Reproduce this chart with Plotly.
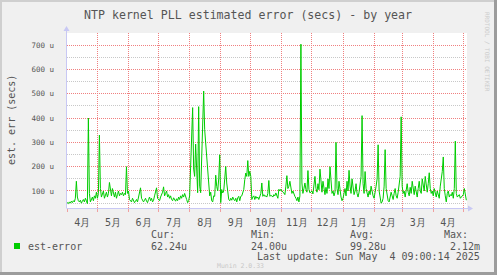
import pandas as pd
import plotly.graph_objects as go

# ---- data (daily estimated error, in micro-seconds) ----
start_date = "2024-03-31"
apr24 = [50, 52, 48, 55, 50, 58, 52, 60, 55, 70, 140, 75, 60, 55, 62, 50, 58, 65, 55, 70, 60, 48, 400, 90, 55, 62, 75, 60, 80, 70, 95]
may24 = [70, 90, 330, 110, 75, 85, 100, 70, 80, 95, 75, 90, 135, 95, 80, 110, 85, 75, 95, 70, 85, 100, 80, 90, 85, 95, 80, 90, 85, 200, 90]
jun24 = [100, 65, 60, 55, 70, 60, 52, 58, 65, 55, 75, 90, 113, 70, 60, 55, 62, 70, 58, 52, 65, 75, 60, 70, 55, 62, 80, 95, 113, 70]
jul24 = [65, 60, 75, 85, 95, 117, 80, 90, 100, 75, 85, 70, 80, 65, 60, 72, 62, 58, 68, 60, 75, 65, 80, 70, 85, 75, 90, 70, 65, 52, 60]
aug24 = [80, 180, 300, 443, 190, 160, 293, 200, 93, 447, 120, 93, 230, 330, 511, 352, 300, 236, 215, 130, 80, 95, 60, 55, 80, 78, 165, 119, 100, 150, 249]
sep24 = [52, 106, 92, 100, 150, 201, 133, 106, 65, 60, 70, 62, 75, 65, 60, 70, 55, 72, 78, 60, 78, 80, 92, 106, 147, 174, 160, 225, 160, 181]
oct24 = [160, 65, 75, 80, 65, 78, 70, 75, 65, 80, 90, 133, 78, 85, 78, 80, 75, 90, 143, 78, 82, 80, 75, 85, 80, 92, 80, 70, 107, 100, 107]
nov24 = [100, 95, 92, 85, 120, 163, 110, 119, 140, 105, 90, 100, 85, 78, 70, 60, 75, 55, 80, 704, 133, 90, 110, 133, 106, 95, 184, 106, 92, 95]
dec24 = [100, 88, 120, 160, 110, 95, 130, 105, 190, 120, 95, 140, 100, 85, 115, 90, 150, 110, 200, 130, 90, 100, 80, 95, 300, 110, 85, 140, 100, 75, 60]
jan25 = [70, 90, 110, 80, 140, 100, 185, 120, 90, 150, 110, 85, 100, 130, 90, 75, 95, 120, 160, 410, 130, 90, 180, 110, 90, 75, 100, 85, 120, 95, 80]
feb25 = [70, 90, 120, 150, 290, 100, 60, 50, 55, 70, 120, 270, 110, 80, 60, 55, 70, 95, 80, 65, 90, 110, 80, 70, 95, 130, 160, 405]
mar25 = [120, 90, 100, 75, 110, 130, 95, 80, 115, 90, 140, 100, 85, 120, 95, 75, 110, 140, 100, 90, 150, 120, 100, 160, 110, 95, 130, 175, 110, 90, 100]
apr25 = [80, 110, 90, 75, 100, 85, 70, 120, 150, 180, 240, 110, 80, 55, 90, 100, 75, 85, 80, 95, 70, 110, 305, 90, 75, 80, 85, 70, 75, 80]
may25 = [85, 110, 75, 62]

y_tick_values = [100, 200, 300, 400, 500, 600, 700]
y_tick_labels = ["100 u", "200 u", "300 u", "400 u", "500 u", "600 u", "700 u"]

title_text = "NTP kernel PLL estimated error (secs) - by year"
y_title = "est. err (secs)"
series_name = "est-error"
stat_headers = ["Cur:", "Min:", "Avg:", "Max:"]
stat_values = ["62.24u", "24.00u", "99.28u", "2.12m"]
last_update = "Last update: Sun May  4 09:00:14 2025"
munin_text = "Munin 2.0.33"
rrd_text = "RRDTOOL / TOBI OETIKER"

values = apr24 + may24 + jun24 + jul24 + aug24 + sep24 + oct24 + nov24 + dec24 + jan25 + feb25 + mar25 + apr25 + may25
dates = pd.date_range(start_date, periods=len(values), freq="D")

# ---- layout geometry ----
W, H = 497, 275
L, R, T, B = 67, 30, 33, 67
PW, PH = W - L - R, H - T - B


def pxx(x):
    return (x - L) / PW


def pxy(y):
    return (H - B - y) / PH


FONT = "DejaVu Sans Mono"
TXT = "#555555"
GREEN = "#00CC00"
AXIS = "#C8C8F4"

fig = go.Figure()
fig.add_trace(go.Scatter(x=dates, y=values, mode="lines",
                         line=dict(color=GREEN, width=1), hoverinfo="skip",
                         showlegend=False))

fig.update_layout(
    width=W, height=H, margin=dict(l=L, r=R, t=T, b=B, pad=0),
    paper_bgcolor="#F0F0F0", plot_bgcolor="#FFFFFF",
    showlegend=False,
    xaxis=dict(
        range=["2024-03-31 16:00", "2025-05-04 16:00"],
        tickmode="linear", tick0="2024-04-01", dtick="M1",
        ticklabelmode="period", tickformat="%-m月",
        showgrid=True, gridcolor="#F08080", griddash="1px,1px", gridwidth=1,
        ticks="outside", ticklen=3, tickcolor="#F0A0A0",
        ticklabelstandoff=2,
        tickfont=dict(family=FONT, size=10, color=TXT),
        showline=False, zeroline=False, fixedrange=True,
    ),
    yaxis=dict(
        range=[30, 750],
        tickmode="array", tickvals=y_tick_values, ticktext=y_tick_labels,
        showgrid=True, gridcolor="#F08080", griddash="1px,1px", gridwidth=1,
        ticks="", ticklabelstandoff=12,
        tickfont=dict(family=FONT, size=7.5, color=TXT),
        minor=dict(tickmode="linear", tick0=0, dtick=50, showgrid=True,
                   gridcolor="#C8C8C8", griddash="1px,1px", gridwidth=1),
        showline=False, zeroline=False, fixedrange=True,
    ),
)

ann = []
ann.append(dict(text=title_text, x=pxx(248), y=pxy(15), xref="paper", yref="paper",
                showarrow=False, xanchor="center", yanchor="middle",
                font=dict(family=FONT, size=11.6, color=TXT)))
ann.append(dict(text=y_title, x=pxx(11), y=pxy(120), xref="paper", yref="paper",
                showarrow=False, textangle=-90, xanchor="center", yanchor="middle",
                font=dict(family=FONT, size=10, color=TXT)))
ann.append(dict(text=rrd_text, x=pxx(487), y=pxy(52), xref="paper", yref="paper",
                showarrow=False, textangle=90, xanchor="center", yanchor="middle",
                font=dict(family=FONT, size=6, color="#CCCCCC")))
ann.append(dict(text=series_name, x=pxx(26), y=pxy(246), xref="paper", yref="paper",
                showarrow=False, xanchor="left", yanchor="middle",
                font=dict(family=FONT, size=10, color=TXT)))
col_x = [149, 249, 348]
for i in range(3):
    ann.append(dict(text=stat_headers[i], x=pxx(col_x[i]), y=pxy(234), xref="paper", yref="paper",
                    showarrow=False, xanchor="left", yanchor="middle",
                    font=dict(family=FONT, size=10, color=TXT)))
    ann.append(dict(text=stat_values[i], x=pxx(col_x[i]), y=pxy(246), xref="paper", yref="paper",
                    showarrow=False, xanchor="left", yanchor="middle",
                    font=dict(family=FONT, size=10, color=TXT)))
ann.append(dict(text=stat_headers[3], x=pxx(470), y=pxy(234), xref="paper", yref="paper",
                showarrow=False, xanchor="right", yanchor="middle",
                font=dict(family=FONT, size=10, color=TXT)))
ann.append(dict(text=stat_values[3], x=pxx(482), y=pxy(246), xref="paper", yref="paper",
                showarrow=False, xanchor="right", yanchor="middle",
                font=dict(family=FONT, size=10, color=TXT)))
ann.append(dict(text=last_update.replace("  ", "\u00a0\u00a0"), x=pxx(482), y=pxy(256.5), xref="paper", yref="paper",
                showarrow=False, xanchor="right", yanchor="middle",
                font=dict(family=FONT, size=10, color=TXT)))
ann.append(dict(text=munin_text, x=pxx(240), y=pxy(265.5), xref="paper", yref="paper",
                showarrow=False, xanchor="center", yanchor="middle",
                font=dict(family=FONT, size=6.5, color="#C8C8C8")))
fig.update_layout(annotations=ann)

shapes = []
# axes lines and arrows
shapes.append(dict(type="line", xref="paper", yref="paper", x0=pxx(67), x1=pxx(469), y0=pxy(208.5), y1=pxy(208.5),
                   line=dict(color=AXIS, width=1), layer="above"))
shapes.append(dict(type="line", xref="paper", yref="paper", x0=pxx(66.5), x1=pxx(66.5), y0=pxy(208.5), y1=pxy(30),
                   line=dict(color=AXIS, width=1), layer="below"))
shapes.append(dict(type="path", xref="paper", yref="paper", layer="above",
                   path=f"M {pxx(468)},{pxy(205.5)} L {pxx(473)},{pxy(208.5)} L {pxx(468)},{pxy(211.5)} Z",
                   fillcolor=AXIS, line=dict(width=0)))
shapes.append(dict(type="path", xref="paper", yref="paper", layer="above",
                   path=f"M {pxx(63.5)},{pxy(31)} L {pxx(66.5)},{pxy(26)} L {pxx(69.5)},{pxy(31)} Z",
                   fillcolor=AXIS, line=dict(width=0)))
# legend swatch
shapes.append(dict(type="rect", xref="paper", yref="paper", x0=pxx(14), x1=pxx(20), y0=pxy(249), y1=pxy(243),
                   fillcolor=GREEN, line=dict(width=0)))
# frame
shapes.append(dict(type="rect", xref="paper", yref="paper", x0=pxx(0), x1=pxx(2), y0=pxy(275), y1=pxy(0),
                   fillcolor="#CFCFCF", line=dict(width=0)))
shapes.append(dict(type="rect", xref="paper", yref="paper", x0=pxx(0), x1=pxx(497), y0=pxy(2), y1=pxy(0),
                   fillcolor="#CFCFCF", line=dict(width=0)))
shapes.append(dict(type="rect", xref="paper", yref="paper", x0=pxx(494), x1=pxx(497), y0=pxy(275), y1=pxy(0),
                   fillcolor="#9C9C9C", line=dict(width=0)))
shapes.append(dict(type="rect", xref="paper", yref="paper", x0=pxx(0), x1=pxx(497), y0=pxy(275), y1=pxy(272),
                   fillcolor="#9C9C9C", line=dict(width=0)))
fig.update_layout(shapes=shapes)

fig.write_html("out.html", config={"displayModeBar": False})
